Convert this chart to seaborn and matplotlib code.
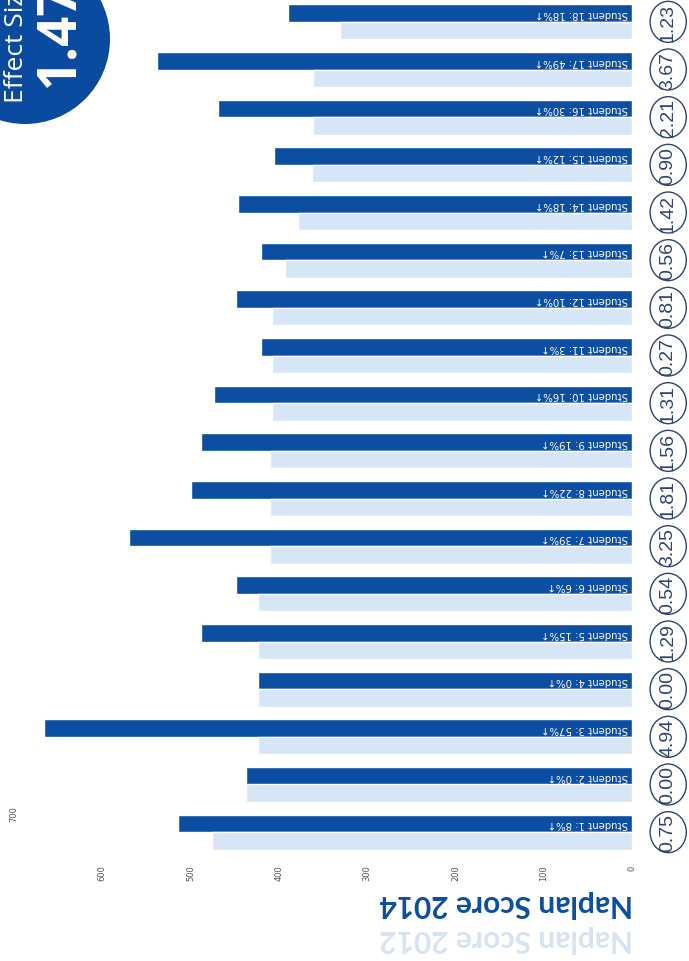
import matplotlib
matplotlib.use("Agg")
import matplotlib.pyplot as plt
import matplotlib.transforms as mtransforms
from matplotlib.patches import Ellipse
import pandas as pd
import seaborn as sns

# ---- data -------------------------------------------------------------
students = [f"Student {i}" for i in range(1, 19)]
score_2012 = [476, 437, 424, 424, 424, 424, 410, 410, 410,
              408, 408, 408, 393, 378, 362, 361, 361, 331]
score_2014 = [514, 437, 666, 424, 488, 449, 570, 500, 488,
              473, 420, 449, 420, 446, 405, 469, 538, 390]
effect_size = [0.75, 0.00, 4.94, 0.00, 1.29, 0.54, 3.25, 1.81, 1.56,
               1.31, 0.27, 0.81, 0.56, 1.42, 0.90, 2.21, 3.67, 1.23]
overall_effect = 1.47
x_ticks = [0, 100, 200, 300, 400, 500, 600]
x_max = 700

DARK = "#0b4ea2"
LIGHT = "#d6e6f7"
RING = "#2f4373"

df = pd.DataFrame({
    "Student": students * 2,
    "Score": score_2014 + score_2012,
    "Year": ["2014"] * len(students) + ["2012"] * len(students),
})

sns.set_theme(style="white")
plt.rcParams["font.family"] = ["DejaVu Sans"]

W, H = 689, 962
fig = plt.figure(figsize=(W / 100, H / 100), dpi=100)
ax = fig.add_axes([14 / W, 1 - 857 / H, 618 / W, 858 / H])

order = students[::-1]
sns.barplot(data=df, y="Student", x="Score", hue="Year", order=order,
            hue_order=["2014", "2012"],
            palette={"2014": DARK, "2012": LIGHT},
            orient="h", width=0.74, gap=0, saturation=1,
            errorbar=None, legend=False, ax=ax)

ax.set_xlim(x_max, 0)
ax.set_ylim(len(students) - 0.5, -0.5)
ax.set_xticks(x_ticks)
ax.set_xticklabels([str(t) for t in x_ticks])
ax.tick_params(axis="x", length=0, pad=6, labelsize=6,
               labelrotation=90, labelcolor="#555555")
ax.set_yticks([])
ax.set_xlabel("")
ax.set_ylabel("")
for s in ax.spines.values():
    s.set_visible(False)
ax.axvline(0, color="#c9ced8", lw=0.8, zorder=0)

# top gridline value sits up inside the plot area
ax.text(x_max, 0.05, str(x_max), rotation=90, ha="center", va="center",
        fontsize=6, color="#555555",
        transform=mtransforms.blended_transform_factory(ax.transData, ax.transAxes))

# per-student labels inside the 2014 bars and effect-size rings
lookup = {n: i for i, n in enumerate(students)}
for patch in ax.containers[0]:
    yc = patch.get_y() + patch.get_height() / 2
    name = order[int(round(yc))]
    i = lookup[name]
    pct = round((score_2014[i] / score_2012[i] - 1) * 100)
    ax.text(4, yc, f"{name}: {pct}%\u2191", rotation=180,
            rotation_mode="anchor", ha="left", va="center",
            color="white", fontsize=7.3)

for pos, name in enumerate(order):
    i = lookup[name]
    ring = Ellipse((-41, pos), width=41, height=0.86, facecolor="white",
                   edgecolor=RING, lw=1.0, clip_on=False, zorder=3)
    ax.add_patch(ring)
    ax.text(-41, pos, f"{effect_size[i]:.2f}", rotation=90,
            ha="center", va="center", fontsize=14, color=RING,
            family=["Liberation Sans", "DejaVu Sans"],
            clip_on=False, zorder=4)

# overall effect-size badge
badge = Ellipse((25 / W, 1 - 40 / H), width=170 / W, height=170 / H,
                transform=fig.transFigure, facecolor="#0a4a9f",
                edgecolor="none", zorder=5)
fig.add_artist(badge)
fig.text(23 / W, 1 - 103 / H, "Effect Size", rotation=90,
         rotation_mode="anchor", ha="left", va="baseline",
         color="white", fontsize=19, family=["Open Sans", "DejaVu Sans"],
         zorder=6)
fig.text(73 / W, 1 - 87 / H, f"{overall_effect:.2f}", rotation=90,
         rotation_mode="anchor", ha="left", va="baseline",
         color="white", fontsize=38, fontweight="bold",
         family=["Open Sans", "DejaVu Sans"], zorder=6)

# series key
fig.text(633 / W, 1 - 895 / H, "Naplan Score 2014", rotation=180,
         rotation_mode="anchor", ha="left", va="baseline",
         color=DARK, fontsize=21.5, fontweight="bold",
         family=["Lato", "DejaVu Sans"])
fig.text(633 / W, 1 - 930 / H, "Naplan Score 2012", rotation=180,
         rotation_mode="anchor", ha="left", va="baseline",
         color="#d8e3f1", fontsize=21.5, fontweight="bold",
         family=["Lato", "DejaVu Sans"])

fig.savefig("out.png", dpi=100)
